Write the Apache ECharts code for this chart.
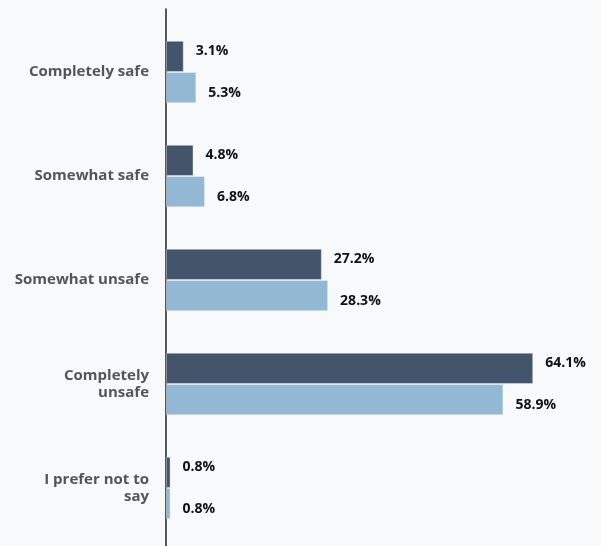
<!DOCTYPE html>
<html>
<head>
<meta charset="utf-8">
<script src="https://cdn.jsdelivr.net/npm/echarts@6/dist/echarts.min.js"></script>
<style>
  html, body { margin: 0; padding: 0; background: #f8f9fb; }
  #chart { width: 601px; height: 546px; }
</style>
</head>
<body>
<div id="chart"></div>
<script>
const categories = ['Completely safe', 'Somewhat safe', 'Somewhat unsafe', 'Completely\nunsafe', 'I prefer not to\nsay'];
const seriesA = [3.1, 4.8, 27.2, 64.1, 0.8];
const seriesB = [5.3, 6.8, 28.3, 58.9, 0.8];

const chart = echarts.init(document.getElementById('chart'));

const valueLabel = (dy) => ({
  show: true,
  position: 'right',
  distance: 12,
  offset: [0, dy],
  formatter: (p) => p.value.toFixed(1) + '%',
  color: '#111',
  fontFamily: 'Open Sans',
  fontWeight: 'bold',
  fontSize: 14,
});

chart.setOption({
  backgroundColor: '#f8f9fb',
  animation: false,
  grid: [
    { left: 166, right: 34, top: 20, bottom: 6 },
    { left: 166, right: 34, top: 9, bottom: -2 },
  ],
  xAxis: [
    { type: 'value', gridIndex: 0, min: 0, max: 70, show: false },
    { type: 'value', gridIndex: 1, min: 0, max: 70, show: false },
  ],
  yAxis: [
    {
      type: 'category',
      gridIndex: 0,
      inverse: true,
      data: categories,
      axisLine: { show: false },
      axisTick: { show: false },
      axisLabel: {
        margin: 17,
        align: 'right',
        lineHeight: 17,
        color: '#555',
        fontFamily: 'Open Sans',
        fontWeight: 'bold',
        fontSize: 15,
      },
    },
    {
      type: 'category',
      gridIndex: 1,
      data: [],
      axisLine: { show: true, lineStyle: { color: '#222', width: 1.5 } },
      axisTick: { show: false },
      axisLabel: { show: false },
    },
  ],
  series: [
    {
      type: 'bar',
      xAxisIndex: 0,
      yAxisIndex: 0,
      data: seriesA,
      barGap: '0%',
      barCategoryGap: '40%',
      itemStyle: { color: '#44546a', borderColor: 'rgba(255,255,255,0.35)', borderWidth: 1 },
      label: valueLabel(-5),
    },
    {
      type: 'bar',
      xAxisIndex: 0,
      yAxisIndex: 0,
      data: seriesB,
      barGap: '0%',
      barCategoryGap: '40%',
      itemStyle: { color: '#93b8d4', borderColor: 'rgba(255,255,255,0.35)', borderWidth: 1 },
      label: valueLabel(5),
    },
  ],
});

window.addEventListener('resize', () => chart.resize());
</script>
</body>
</html>
